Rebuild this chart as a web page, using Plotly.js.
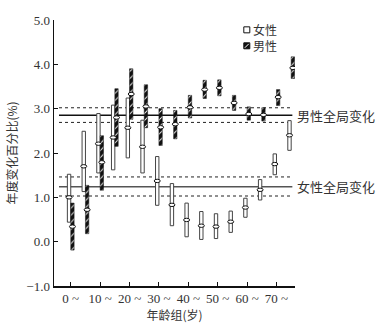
<!DOCTYPE html>
<html><head><meta charset="utf-8">
<script src="https://cdn.plot.ly/plotly-3.0.1.min.js"></script>
<style>html,body{margin:0;padding:0;background:#fff}#chart{width:386px;height:326px}</style>
</head><body><div id="chart"></div>
<script>
// ---- data ----
const ages = [0,5,10,15,20,25,30,35,40,45,50,55,60,65,70,75];
const femaleLow  = [0.44,1.13,1.55,1.62,1.89,1.55,0.82,0.36,0.11,0.05,0.07,0.21,0.55,0.94,1.51,2.06];
const femaleHigh = [1.52,2.49,2.89,3.08,3.24,2.74,1.92,1.31,0.87,0.68,0.63,0.69,0.98,1.40,1.98,2.73];
const femaleMean = [1.00,1.70,2.21,2.35,2.57,2.14,1.37,0.83,0.49,0.36,0.34,0.45,0.77,1.17,1.75,2.40];
const maleLow    = [-0.19,0.18,1.16,2.15,2.76,2.57,2.17,2.32,2.79,3.23,3.29,2.96,2.74,2.72,3.07,3.68];
const maleHigh   = [0.87,1.27,2.39,3.45,3.90,3.54,3.00,2.96,3.30,3.64,3.65,3.30,3.04,3.02,3.43,4.17];
const maleMean   = [0.34,0.72,1.79,2.80,3.33,3.05,2.58,2.65,3.03,3.43,3.47,3.13,2.88,2.86,3.26,3.92];
const maleGlobal   = [2.69, 2.85, 3.02];   // lower CI, estimate, upper CI
const femaleGlobal = [1.03, 1.24, 1.46];
const tickVals  = [0,10,20,30,40,50,60,70];
const tickLabels = ["0 ~","10 ~","20 ~","30 ~","40 ~","50 ~","60 ~","70 ~"];
const seriesNames = ["女性","男性"];
const globalLabels = ["男性全局变化","女性全局变化"];

// ---- style ----
const W = 1.15; // bar width in years
const serif = "Liberation Serif, Times New Roman, serif";
const cjk = "Noto Sans CJK SC, sans-serif";
const txt = "#333";

const traces = [
  {type:'bar', name:seriesNames[0], x:ages, base:femaleLow,
   y:femaleHigh.map((h,i)=>h-femaleLow[i]), offset:-W, width:W,
   marker:{color:'#fff', line:{color:'#444', width:1}}, cliponaxis:false, showlegend:false, hoverinfo:'skip'},
  {type:'bar', name:seriesNames[1], x:ages, base:maleLow,
   y:maleHigh.map((h,i)=>h-maleLow[i]), offset:0, width:W,
   marker:{color:'#111', line:{color:'#111', width:0.5},
     pattern:{shape:'/', bgcolor:'#111', fgcolor:'#fff', size:5, solidity:0.18}},
   cliponaxis:false, showlegend:false, hoverinfo:'skip'}
];

const shapes = [];
function ell(x, y){
  shapes.push({type:'circle', xref:'x', yref:'y', xsizemode:'pixel', ysizemode:'pixel',
    xanchor:x, yanchor:y, x0:-3, x1:3, y0:-1.7, y1:1.7,
    fillcolor:'#fff', line:{color:'#111', width:1}, layer:'above'});
}
ages.forEach((a,i)=>{ ell(a-W/2, femaleMean[i]); ell(a+W/2, maleMean[i]); });
function hl(y, dash, color){
  shapes.push({type:'line', xref:'x', yref:'y', x0:-4, x1:75.4, y0:y, y1:y,
    line:{color:color, width:dash==='solid'?1.5:1, dash:dash}, layer:'below'});
}
hl(maleGlobal[0],'dot','#222'); hl(maleGlobal[1],'solid','#111'); hl(maleGlobal[2],'dot','#222');
hl(femaleGlobal[0],'dot','#222'); hl(femaleGlobal[1],'solid','#555'); hl(femaleGlobal[2],'dot','#222');

// legend symbols (paper coords)
const lx = 0.80, ly = [0.963, 0.903];
shapes.push({type:'rect', xref:'paper', yref:'paper', xsizemode:'pixel', ysizemode:'pixel',
  xanchor:lx, yanchor:ly[0], x0:-3, x1:3, y0:-3, y1:3, fillcolor:'#fff', line:{color:'#111', width:1}});
shapes.push({type:'rect', xref:'paper', yref:'paper', xsizemode:'pixel', ysizemode:'pixel',
  xanchor:lx, yanchor:ly[1], x0:-3, x1:3, y0:-3, y1:3, fillcolor:'#111', line:{color:'#111', width:1}});
shapes.push({type:'line', xref:'paper', yref:'paper', xsizemode:'pixel', ysizemode:'pixel',
  xanchor:lx, yanchor:ly[1], x0:-2, x1:2, y0:-2, y1:2, line:{color:'#fff', width:1}});

const annotations = [
  {xref:'paper', yref:'paper', x:lx, xshift:4, y:(ly[0]+ly[1])/2, xanchor:'left', yanchor:'middle', showarrow:false,
   align:'left', text:seriesNames.join('<br>'), font:{family:cjk, size:12, color:txt}},
  {xref:'x', yref:'y', x:75.4, xshift:3, y:maleGlobal[1], xanchor:'left', yanchor:'middle', showarrow:false,
   text:globalLabels[0], font:{family:cjk, size:13, color:txt}},
  {xref:'x', yref:'y', x:75.4, xshift:3, y:femaleGlobal[1], xanchor:'left', yanchor:'middle', showarrow:false,
   text:globalLabels[1], font:{family:cjk, size:13, color:txt}}
];

const layout = {
  width:386, height:326, margin:{l:54, r:91, t:20, b:40},
  paper_bgcolor:'#fff', plot_bgcolor:'#fff', showlegend:false, barmode:'overlay',
  xaxis:{range:[-5.7,76.3], tickvals:tickVals, ticktext:tickLabels, showline:true, linecolor:'#111', linewidth:1.5,
    ticks:'inside', ticklen:4, tickcolor:'#111', showgrid:false, zeroline:false,
    tickfont:{family:serif, size:13, color:txt},
    title:{text:'年龄组(岁)', font:{family:cjk, size:12, color:txt}, standoff:1}},
  yaxis:{range:[-1,5], dtick:1, tick0:0, tickformat:'.1f', showline:true, linecolor:'#111', linewidth:1.5,
    ticks:'inside', ticklen:4, tickcolor:'#111', showgrid:false, zeroline:false,
    tickfont:{family:serif, size:13, color:txt},
    title:{text:'年度变化百分比(%)', font:{family:cjk, size:12, color:txt}, standoff:6}},
  shapes:shapes, annotations:annotations
};
Plotly.newPlot('chart', traces, layout, {staticPlot:true, displayModeBar:false});
</script></body></html>
